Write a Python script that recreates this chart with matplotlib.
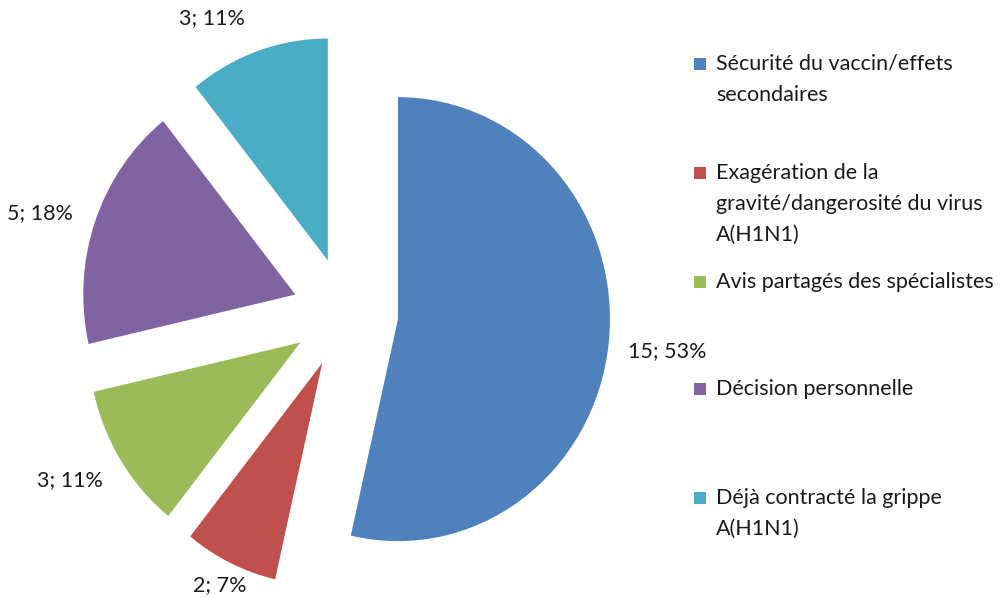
import numpy as np
import matplotlib
matplotlib.use("Agg")
import matplotlib.pyplot as plt
from matplotlib.patches import Rectangle

categories = [
    "Sécurité du vaccin/effets\nsecondaires",
    "Exagération de la\ngravité/dangerosité du virus\nA(H1N1)",
    "Avis partagés des spécialistes",
    "Décision personnelle",
    "Déjà contracté la grippe\nA(H1N1)",
]
values = [15, 2, 3, 5, 3]
data_labels = ["15; 53%", "2; 7%", "3; 11%", "5; 18%", "3; 11%"]
colors = ["#4F81BD", "#C0504D", "#9BBB59", "#8064A2", "#4BACC6"]

FONT = ["Lato", "DejaVu Sans"]
TXT = "#1a1a1a"
FS = 15.5

W, H = 1003, 598
fig = plt.figure(figsize=(W / 100, H / 100), dpi=100)
ax = fig.add_axes([0, 0, 1, 1])
RX, RY = 212.0, 222.0
cx, cy = 345.3, 312.9

explode = [0.25] * len(values)
wedges, _ = ax.pie(values, colors=colors, startangle=90, counterclock=False,
                   explode=explode, radius=1.0, center=(0, 0),
                   wedgeprops=dict(linewidth=0))
ax.set_aspect("auto")
ax.set_xlim(-cx / RX, (W - cx) / RX)
ax.set_ylim(-(H - cy) / RY, cy / RY)
ax.axis("off")

label_dist = [1.53, 1.36, 1.50, 1.51, 1.47]
label_rot = [0, 0, -2, 2, 6]
for w, lab, d, dr in zip(wedges, data_labels, label_dist, label_rot):
    th = np.deg2rad((w.theta1 + w.theta2) / 2 + dr)
    ax.text(d * np.cos(th), d * np.sin(th), lab, ha="center", va="center",
            fontsize=FS, color=TXT, family=FONT)

# legend (manual, Excel style: marker aligned with first line)
leg_y = [64, 173, 282, 389, 498]
line_gap = 31
for cat, col, y in zip(categories, colors, leg_y):
    fig.patches.append(Rectangle(((700 - 6) / W, 1 - (y + 6) / H), 12 / W, 12 / H,
                                 transform=fig.transFigure, facecolor=col,
                                 edgecolor="none"))
    for i, line in enumerate(cat.split("\n")):
        fig.text(716 / W, 1 - (y + i * line_gap) / H, line, ha="left",
                 va="center", fontsize=FS, color=TXT, family=FONT)

fig.savefig("out.png", dpi=100)
